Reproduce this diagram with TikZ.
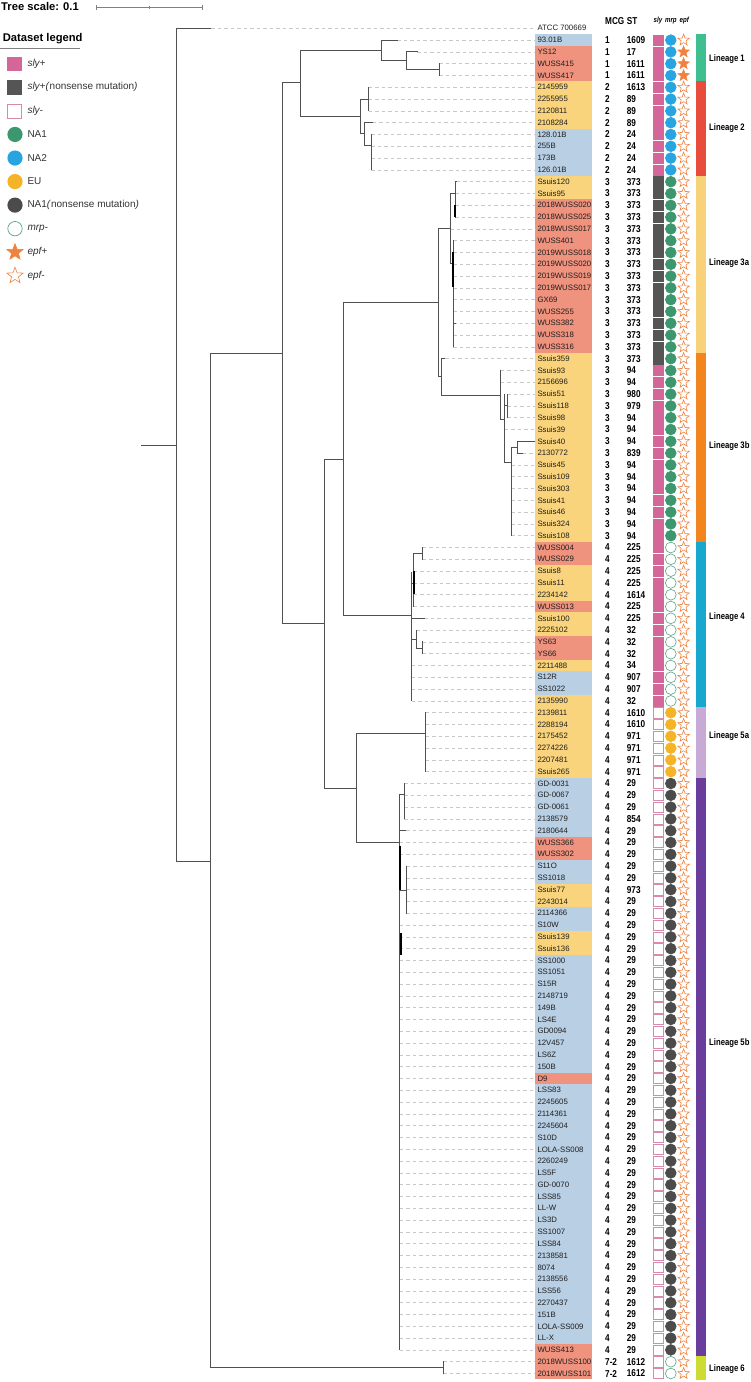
\documentclass[tikz,border=0pt]{standalone}
\usepackage{fontspec}
\setmainfont{Liberation Sans}
\newfontfamily\narrowfont[FakeStretch=0.82]{Liberation Sans}
\definecolor{treegray}{HTML}{505050}
\definecolor{leadergray}{HTML}{C8C8C8}
\definecolor{bgb}{HTML}{B9CFE4}
\definecolor{bgr}{HTML}{EF927E}
\definecolor{bgy}{HTML}{F9D47D}
\definecolor{slyP}{HTML}{D4669A}
\definecolor{slyD}{HTML}{555555}
\definecolor{slyW}{HTML}{FFFFFF}
\definecolor{slybP}{HTML}{D4669A}
\definecolor{slybD}{HTML}{555555}
\definecolor{slybW}{HTML}{D889AE}
\definecolor{mrpB}{HTML}{28A5E1}
\definecolor{mrpG}{HTML}{3C966E}
\definecolor{mrpY}{HTML}{F5B428}
\definecolor{mrpK}{HTML}{4B4B4B}
\definecolor{mrpW}{HTML}{FFFFFF}
\definecolor{mrpbB}{HTML}{28A5E1}
\definecolor{mrpbG}{HTML}{3C966E}
\definecolor{mrpbY}{HTML}{F5B428}
\definecolor{mrpbK}{HTML}{4B4B4B}
\definecolor{mrpbW}{HTML}{5BA585}
\definecolor{epforange}{HTML}{EE8241}
\definecolor{epfF}{HTML}{EE8241}
\definecolor{epfO}{HTML}{FFFFFF}
\definecolor{linA}{HTML}{3FBF8F}
\definecolor{linB}{HTML}{E84C3D}
\definecolor{linC}{HTML}{F8D278}
\definecolor{linD}{HTML}{F2851E}
\definecolor{linE}{HTML}{19A8CD}
\definecolor{linF}{HTML}{C8AAD7}
\definecolor{linG}{HTML}{6A3C9B}
\definecolor{linH}{HTML}{CDDC32}
\definecolor{txt}{HTML}{1E1E1E}
\definecolor{legtxt}{HTML}{333333}
\begin{document}
\begin{tikzpicture}[x=1pt,y=-1pt,
  tree/.style={draw=treegray,line width=0.9pt,line cap=rect},
  thickbr/.style={draw=black,line width=1.8pt},
  leader/.style={draw=leadergray,line width=0.5pt,dash pattern=on 3.5pt off 3pt},
  taxon/.style={anchor=west,inner sep=0pt,text=txt,font=\fontsize{7.8}{8}\selectfont},
  numb/.style={anchor=west,inner sep=0pt,text=black,font=\narrowfont\bfseries\fontsize{10}{10}\selectfont},
  hdr/.style={anchor=west,inner sep=0pt,text=black,font=\narrowfont\bfseries\fontsize{10}{10}\selectfont},
  symhdr/.style={inner sep=0pt,text=black,font=\narrowfont\bfseries\itshape\fontsize{7.5}{8}\selectfont},
  linlab/.style={anchor=west,inner sep=0pt,text=black,font=\narrowfont\bfseries\fontsize{9.4}{10}\selectfont},
  legitem/.style={anchor=west,inner sep=0pt,text=legtxt,font=\fontsize{10}{11}\selectfont},
  titletext/.style={anchor=west,inner sep=0pt,text=black,font=\bfseries\fontsize{11.2}{12}\selectfont},
  pics/starp/.style 2 args={code={
    \draw[fill=#1,draw=epforange,line width=0.6pt,line join=miter]
      (-90:#2) -- (-54:{0.42*#2}) -- (-18:#2) -- (18:{0.42*#2}) -- (54:#2) -- (90:{0.42*#2})
      -- (126:#2) -- (162:{0.42*#2}) -- (198:#2) -- (234:{0.42*#2}) -- cycle;}}
]
\useasboundingbox (0,0) rectangle (750,1382);

% ---------- title and scale ----------
\node[titletext] (tscale) at (1,6.5) {Tree scale: 0.1};
\coordinate (sb1) at (96.7,7.3);
\coordinate (sb2) at (202.3,7.3);
\coordinate (sbm) at (149.5,7.3);
\draw[draw=gray,line width=0.8pt] (sb1) -- (sb2);
\draw[draw=gray,line width=0.8pt] ([yshift=2.5pt]sb1) -- ([yshift=-2.5pt]sb1);
\draw[draw=gray,line width=0.8pt] ([yshift=2.5pt]sb2) -- ([yshift=-2.5pt]sb2);
\draw[draw=gray,line width=0.6pt] ([yshift=1.5pt]sbm) -- ([yshift=-1.5pt]sbm);

% ---------- legend ----------
\node[titletext] (legtitle) at (2.7,39) {Dataset legend};
\draw[draw=gray,line width=0.6pt] (0,48.3) -- (80,48.3);
\fill[slyP] (7.3,56.5) rectangle (21.9,71.1);
\node[legitem] (lg1) at (27.3,63.8) {\textit{sly+}};
\fill[slyD] (7.3,80.05) rectangle (21.9,94.65);
\node[legitem] (lg2) at (27.3,87.35) {\textit{sly+(}nonsense mutation\textit{)}};
\draw[fill=white,draw=slybW,line width=0.7pt] (7.6,103.9) rectangle (21.6,117.9);
\node[legitem] (lg3) at (27.3,110.9) {\textit{sly-}};
\fill[mrpG] (15,134.45) circle (7.6);
\node[legitem] (lg4) at (27.3,134.45) {NA1};
\fill[mrpB] (15,158) circle (7.6);
\node[legitem] (lg5) at (27.3,158) {NA2};
\fill[mrpY] (15,181.55) circle (7.6);
\node[legitem] (lg6) at (27.3,181.55) {EU};
\fill[mrpK] (15,205.1) circle (7.6);
\node[legitem] (lg7) at (27.3,205.1) {NA1\textit{(}nonsense mutation\textit{)}};
\draw[fill=white,draw=mrpbW,line width=0.7pt] (15,228.65) circle (7.2);
\node[legitem] (lg8) at (27.3,228.65) {\textit{mrp-}};
\pic at (15,252.2) {starp={epfF}{8.6}};
\node[legitem] (lg9) at (27.3,252.2) {\textit{epf+}};
\pic at (15,275.75) {starp={epfO}{8.6}};
\node[legitem] (lg10) at (27.3,275.75) {\textit{epf-}};

% ---------- headers ----------
\node[hdr] (hmcg) at (605,21) {MCG};
\node[hdr] (hst) at (626.7,21) {ST};
\node[symhdr] (hsly) at (658,21) {sly};
\node[symhdr] (hmrp) at (670.9,21) {mrp};
\node[symhdr] (hepf) at (684.2,21) {epf};

% ---------- row 1 ----------
\draw[leader] (211,28.3) -- (535,28.3);
\node[taxon] (lab1) at (537.3,28.3) {ATCC 700669};

% ---------- rows 2..115 ----------
\foreach \lab/\bg/\mcg/\st/\sly/\mrp/\epf/\tx [count=\i from 2] in {
93.01B/b/1/1609/P/B/O/397.3,
YS12/r/1/17/P/B/F/417.3,
WUSS415/r/1/1611/P/B/F/439.3,
WUSS417/r/1/1611/P/B/F/439.3,
2145959/y/2/1613/P/B/O/368.7,
2255955/y/2/89/P/B/O/368.7,
2120811/y/2/89/P/B/O/368.7,
2108284/y/2/89/P/B/O/372.7,
128.01B/b/2/24/P/B/O/371.3,
255B/b/2/24/P/B/O/371.3,
173B/b/2/24/P/B/O/371.3,
126.01B/b/2/24/P/B/O/371.3,
Ssuis120/y/3/373/D/G/O/456.7,
Ssuis95/y/3/373/D/G/O/455,
2018WUSS020/r/3/373/D/G/O/455,
2018WUSS025/r/3/373/D/G/O/455,
2018WUSS017/r/3/373/D/G/O/450,
WUSS401/r/3/373/D/G/O/453,
2019WUSS018/r/3/373/D/G/O/453,
2019WUSS020/r/3/373/D/G/O/453,
2019WUSS019/r/3/373/D/G/O/453,
2019WUSS017/r/3/373/D/G/O/453,
GX69/r/3/373/D/G/O/453,
WUSS255/r/3/373/D/G/O/453,
WUSS382/r/3/373/D/G/O/453,
WUSS318/r/3/373/D/G/O/453,
WUSS316/r/3/373/D/G/O/453,
Ssuis359/y/3/373/D/G/O/445,
Ssuis93/y/3/94/P/G/O/500.7,
2156696/y/3/94/P/G/O/500.7,
Ssuis51/y/3/980/P/G/O/507,
Ssuis118/y/3/979/P/G/O/507,
Ssuis98/y/3/94/P/G/O/507,
Ssuis39/y/3/94/P/G/O/504.7,
Ssuis40/y/3/94/P/G/O/534.7,
2130772/y/3/839/P/G/O/522.7,
Ssuis45/y/3/94/P/G/O/511,
Ssuis109/y/3/94/P/G/O/511,
Ssuis303/y/3/94/P/G/O/511,
Ssuis41/y/3/94/P/G/O/511,
Ssuis46/y/3/94/P/G/O/511,
Ssuis324/y/3/94/P/G/O/511,
Ssuis108/y/3/94/P/G/O/511,
WUSS004/r/4/225/P/W/O/422.7,
WUSS029/r/4/225/P/W/O/422.7,
Ssuis8/y/4/225/P/W/O/413.7,
Ssuis11/y/4/225/P/W/O/413.7,
2234142/y/4/1614/P/W/O/413.7,
WUSS013/r/4/225/P/W/O/413.7,
Ssuis100/y/4/225/P/W/O/424.3,
2225102/y/4/32/P/W/O/416.7,
YS63/r/4/32/P/W/O/422.7,
YS66/r/4/32/P/W/O/422.7,
2211488/y/4/34/P/W/O/411.7,
S12R/b/4/907/P/W/O/411.7,
SS1022/b/4/907/P/W/O/411.7,
2135990/y/4/32/P/W/O/411.7,
2139811/y/4/1610/W/Y/O/425.7,
2288194/y/4/1610/W/Y/O/425.7,
2175452/y/4/971/W/Y/O/425.7,
2274226/y/4/971/W/Y/O/425.7,
2207481/y/4/971/W/Y/O/425.7,
Ssuis265/y/4/971/W/Y/O/425.7,
GD-0031/b/4/29/W/K/O/404,
GD-0067/b/4/29/W/K/O/404,
GD-0061/b/4/29/W/K/O/404,
2138579/b/4/854/W/K/O/404,
2180644/b/4/29/W/K/O/406,
WUSS366/r/4/29/W/K/O/399.7,
WUSS302/r/4/29/W/K/O/399.7,
S11O/b/4/29/W/K/O/406.7,
SS1018/b/4/29/W/K/O/406.7,
Ssuis77/y/4/973/W/K/O/406.7,
2243014/y/4/29/W/K/O/406.7,
2114366/b/4/29/W/K/O/406.7,
S10W/b/4/29/W/K/O/399.7,
Ssuis139/y/4/29/W/K/O/399.7,
Ssuis136/y/4/29/W/K/O/399.7,
SS1000/b/4/29/W/K/O/399.7,
SS1051/b/4/29/W/K/O/399.7,
S15R/b/4/29/W/K/O/399.7,
2148719/b/4/29/W/K/O/399.7,
149B/b/4/29/W/K/O/399.7,
LS4E/b/4/29/W/K/O/399.7,
GD0094/b/4/29/W/K/O/399.7,
12V457/b/4/29/W/K/O/399.7,
LS6Z/b/4/29/W/K/O/399.7,
150B/b/4/29/W/K/O/399.7,
D9/r/4/29/W/K/O/399.7,
LSS83/b/4/29/W/K/O/399.7,
2245605/b/4/29/W/K/O/399.7,
2114361/b/4/29/W/K/O/399.7,
2245604/b/4/29/W/K/O/399.7,
S10D/b/4/29/W/K/O/399.7,
LOLA-SS008/b/4/29/W/K/O/399.7,
2260249/b/4/29/W/K/O/399.7,
LS5F/b/4/29/W/K/O/399.7,
GD-0070/b/4/29/W/K/O/399.7,
LSS85/b/4/29/W/K/O/399.7,
LL-W/b/4/29/W/K/O/399.7,
LS3D/b/4/29/W/K/O/399.7,
SS1007/b/4/29/W/K/O/399.7,
LSS84/b/4/29/W/K/O/399.7,
2138581/b/4/29/W/K/O/399.7,
8074/b/4/29/W/K/O/399.7,
2138556/b/4/29/W/K/O/399.7,
LSS56/b/4/29/W/K/O/399.7,
2270437/b/4/29/W/K/O/399.7,
151B/b/4/29/W/K/O/399.7,
LOLA-SS009/b/4/29/W/K/O/399.7,
LL-X/b/4/29/W/K/O/399.7,
WUSS413/r/4/29/W/K/O/399.7,
2018WUSS100/r/7-2/1612/W/W/O/443.3,
2018WUSS101/r/7-2/1612/W/W/O/443.3}{
  \pgfmathsetmacro{\yy}{28.3+(\i-1)*11.8}
  \fill[bg\bg] (535,{\yy-5.95}) rectangle (591.7,{\yy+5.95});
  \draw[leader] (\tx,\yy) -- (535,\yy);
  \node[taxon] (lab\i) at (537.3,\yy) {\lab};
  \node[numb] (mcg\i) at (605,\yy) {\mcg};
  \node[numb] (st\i) at (626.7,\yy) {\st};
  \draw[fill=sly\sly,draw=slyb\sly,line width=0.6pt] (653.2,{\yy-5.1}) rectangle (662.8,{\yy+5.1});
  \draw[fill=mrp\mrp,draw=mrpb\mrp,line width=0.6pt] (670.8,\yy) circle (5.4);
  \pic at (683.6,\yy) {starp={epf\epf}{6}};
}

% ---------- lineage bars ----------
\fill[linA] (696,34.2) rectangle (705.7,81.4);
\fill[linB] (696,81.4) rectangle (705.7,175.8);
\fill[linC] (696,175.8) rectangle (705.7,352.8);
\fill[linD] (696,352.8) rectangle (705.7,541.6);
\fill[linE] (696,541.6) rectangle (705.7,706.8);
\fill[linF] (696,706.8) rectangle (705.7,777.6);
\fill[linG] (696,777.6) rectangle (705.7,1355.8);
\fill[linH] (696,1355.8) rectangle (705.7,1379.9);
\node[linlab] (lin1) at (709,59) {Lineage 1};
\node[linlab] (lin2) at (709,128.3) {Lineage 2};
\node[linlab] (lin3a) at (709,263.3) {Lineage 3a};
\node[linlab] (lin3b) at (709,445.7) {Lineage 3b};
\node[linlab] (lin4) at (709,617.3) {Lineage 4};
\node[linlab] (lin5a) at (709,736) {Lineage 5a};
\node[linlab] (lin5b) at (709,1043.3) {Lineage 5b};
\node[linlab] (lin6) at (709,1369.3) {Lineage 6};

% ---------- tree ----------
\draw[tree] (141.3,445) -- (176,445);
\draw[tree] (211,28.3) -- (176,28.3) -- (176,861) -- (210.7,861);
\draw[tree] (282.7,353) -- (210.7,353) -- (210.7,1367.6) -- (443.3,1367.6);
\draw[tree] (443.3,1361.7) -- (443.3,1373.5);
% lineage 1 & 2
\draw[tree] (300.7,82.6) -- (282.7,82.6) -- (282.7,623.5) -- (324.3,623.5);
\draw[tree] (381.7,50) -- (300.7,50) -- (300.7,116) -- (360.3,116);
\draw[tree] (397.3,40.1) -- (381.7,40.1) -- (381.7,60.7) -- (406,60.7);
\draw[tree] (417.3,51.9) -- (406,51.9) -- (406,69.3) -- (439.3,69.3);
\draw[tree] (439.3,63.7) -- (439.3,75.5);
\draw[tree] (368.7,99.1) -- (360.3,99.1) -- (360.3,133.7) -- (364.3,133.7);
\draw[tree] (368.7,87.3) -- (368.7,110.9);
\draw[tree] (372.7,122.7) -- (364.3,122.7) -- (364.3,145) -- (371.3,145);
\draw[tree] (371.3,134.5) -- (371.3,169.9);
% D, E, lineage 3
\draw[tree] (343,459) -- (324.3,459) -- (324.3,788) -- (356.7,788);
\draw[tree] (438.3,302.7) -- (343,302.7) -- (343,615.7) -- (411.7,615.7);
\draw[tree] (450,228.3) -- (438.3,228.3) -- (438.3,376.7) -- (441,376.7);
\draw[tree] (455,193.5) -- (450,193.5) -- (450,263.3) -- (453,263.3);
\draw[tree] (456.7,181.7) -- (455,181.7) -- (455,217.1);
\draw[thickbr] (455,205) -- (455,217);
\draw[tree] (453,240.7) -- (453,346.9);
\draw[thickbr] (453,252) -- (453,287);
\draw[tree] (453,323.3) -- (456,323.3);
\draw[tree] (445,358.7) -- (441,358.7) -- (441,395) -- (500.7,395);
\draw[tree] (500.7,370.5) -- (500.7,419.3) -- (504.7,419.3);
\draw[tree] (504.7,394) -- (504.7,462.3) -- (511,462.3);
\draw[tree] (504.7,405.9) -- (507,405.9);
\draw[tree] (507,394.1) -- (507,417.7);
\draw[tree] (511,447) -- (511,535.7);
\draw[tree] (511,447) -- (517.7,447);
\draw[tree] (534.7,441.3) -- (517.7,441.3) -- (517.7,453.1) -- (522.7,453.1);
% lineage 4
\draw[tree] (411.7,572) -- (411.7,700.9);
\draw[tree] (411.7,583) -- (413.7,583);
\draw[tree] (413.7,553.3) -- (413.7,606.5);
\draw[thickbr] (413.7,571) -- (413.7,594);
\draw[tree] (413.7,553.3) -- (422.7,553.3);
\draw[tree] (422.7,547.5) -- (422.7,559.3);
\draw[tree] (411.7,618.3) -- (424.3,618.3);
\draw[tree] (411.7,639) -- (416.7,639);
\draw[tree] (416.7,630.1) -- (416.7,648.3) -- (422.7,648.3);
\draw[tree] (422.7,641.9) -- (422.7,653.7);
% lineage 5
\draw[tree] (425.7,733) -- (356.7,733) -- (356.7,842.6) -- (399.7,842.6);
\draw[tree] (425.7,712.7) -- (425.7,771.7);
\draw[tree] (399.7,794) -- (399.7,1349.9);
\draw[tree] (399.7,794) -- (404,794);
\draw[tree] (404,783.5) -- (404,818.9);
\draw[tree] (399.7,830.7) -- (406,830.7);
\draw[thickbr] (399.7,846) -- (399.7,890);
\draw[tree] (399.7,890) -- (406.7,890);
\draw[tree] (406.7,866.1) -- (406.7,913.3);
\draw[thickbr] (400.6,933) -- (400.6,955);
\end{tikzpicture}
\end{document}
